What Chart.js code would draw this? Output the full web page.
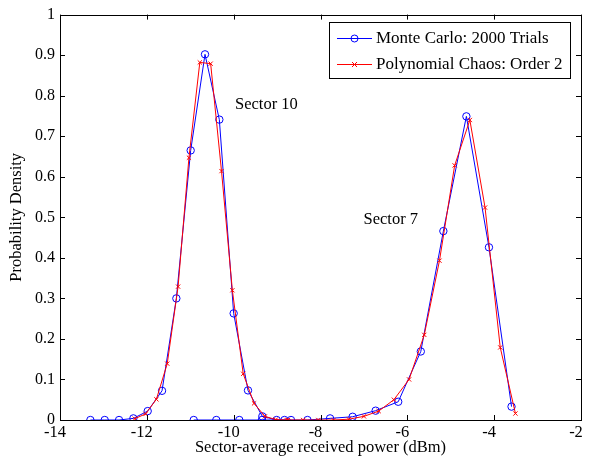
<!DOCTYPE html>
<html>
<head>
<meta charset="utf-8">
<script src="https://cdn.jsdelivr.net/npm/chart.js@4"></script>
<style>
    html, body { margin: 0; padding: 0; background: #fff; }
    #wrap { width: 591px; height: 461px; }
</style>
</head>
<body>
<div id="wrap"><canvas id="pdfChart" width="591" height="461"></canvas></div>
<script>
// =========================
// Data
// =========================

// Monte Carlo histogram, sector 10
const mcSector10X = [-13.30, -12.97, -12.64, -12.31, -11.98, -11.65, -11.32, -10.99, -10.66, -10.33, -10.00, -9.67, -9.34, -9.01, -8.68];
const mcSector10Y = [0, 0, 0, 0.004, 0.022, 0.072, 0.300, 0.665, 0.902, 0.741, 0.263, 0.073, 0.009, 0, 0];

// Monte Carlo histogram, sector 7
const mcSector7X = [-10.92, -10.40, -9.87, -9.35, -8.83, -8.30, -7.78, -7.26, -6.73, -6.21, -5.69, -5.17, -4.64, -4.12, -3.60];
const mcSector7Y = [0, 0, 0, 0, 0, 0, 0.004, 0.008, 0.023, 0.045, 0.169, 0.466, 0.749, 0.426, 0.033];

// Polynomial chaos, sector 10
const pcSector10X = [-12.28, -12.03, -11.78, -11.53, -11.28, -11.03, -10.78, -10.53, -10.28, -10.03, -9.78, -9.53, -9.28, -9.03, -8.78];
const pcSector10Y = [0.003, 0.015, 0.051, 0.139, 0.329, 0.647, 0.882, 0.879, 0.614, 0.320, 0.114, 0.041, 0.009, 0.001, 0];

// Polynomial chaos, sector 7
const pcSector7X = [-8.75, -8.40, -8.05, -7.70, -7.35, -7.00, -6.66, -6.31, -5.96, -5.61, -5.26, -4.91, -4.56, -4.21, -3.86, -3.51];
const pcSector7Y = [0, 0, 0, 0, 0.002, 0.009, 0.022, 0.050, 0.100, 0.210, 0.393, 0.628, 0.740, 0.524, 0.179, 0.016];

// Axes
const xTicks = [-14, -12, -10, -8, -6, -4, -2];
const yTicks = [0, 0.1, 0.2, 0.3, 0.4, 0.5, 0.6, 0.7, 0.8, 0.9, 1];

// Legend + labels
const seriesNames = ['Monte Carlo: 2000 Trials', 'Polynomial Chaos: Order 2'];
const sectorLabels = ['Sector 10', 'Sector 7'];
const sectorLabelX = [-9.97, -7.01];
const sectorLabelY = [0.778, 0.493];

const FONT = "'Liberation Serif', 'Times New Roman', serif";
const BLUE = '#0000ff';
const RED = '#ff0000';

function toPoints(xs, ys) {
    return xs.map((x, i) => ({ x: x, y: ys[i] }));
}

function seriesStyle(color, marker, radius) {
    return {
        borderColor: color,
        backgroundColor: color,
        borderWidth: 1,
        pointStyle: marker,
        pointRadius: radius,
        pointBorderColor: color,
        pointBackgroundColor: 'rgba(0,0,0,0)',
        pointBorderWidth: 1,
        showLine: true,
        tension: 0
    };
}

// Box, inward ticks, legend and text labels (MATLAB look)
const matlabFrame = {
    id: 'matlabFrame',
    afterDatasetsDraw(chart) {
        const ctx = chart.ctx;
        const a = chart.chartArea;
        const xs = chart.scales.x;
        const ys = chart.scales.y;
        const tl = 5;

        ctx.save();
        ctx.strokeStyle = '#000';
        ctx.lineWidth = 1;
        ctx.beginPath();
        xTicks.forEach(v => {
            const px = Math.round(xs.getPixelForValue(v)) + 0.5;
            ctx.moveTo(px, a.bottom); ctx.lineTo(px, a.bottom - tl);
            ctx.moveTo(px, a.top); ctx.lineTo(px, a.top + tl);
        });
        yTicks.forEach(v => {
            const py = Math.round(ys.getPixelForValue(v)) + 0.5;
            ctx.moveTo(a.left, py); ctx.lineTo(a.left + tl, py);
            ctx.moveTo(a.right, py); ctx.lineTo(a.right - tl, py);
        });
        ctx.stroke();
        ctx.strokeRect(Math.round(a.left) + 0.5, Math.round(a.top) + 0.5,
            Math.round(a.right - a.left), Math.round(a.bottom - a.top));

        // sector labels
        ctx.fillStyle = '#000';
        ctx.font = '16.5px ' + FONT;
        ctx.textAlign = 'left';
        ctx.textBaseline = 'middle';
        sectorLabels.forEach((t, i) => {
            ctx.fillText(t, xs.getPixelForValue(sectorLabelX[i]), ys.getPixelForValue(sectorLabelY[i]));
        });

        // legend box
        const bx = 329, by = 22, bw = 241, bh = 56;
        ctx.fillStyle = '#fff';
        ctx.fillRect(bx, by, bw, bh);
        ctx.strokeRect(bx + 0.5, by + 0.5, bw, bh);
        ctx.font = '17px ' + FONT;
        const rows = [
            { color: BLUE, marker: 'circle', y: by + 16 },
            { color: RED, marker: 'cross', y: by + 42 }
        ];
        rows.forEach((r, i) => {
            ctx.strokeStyle = r.color;
            ctx.beginPath();
            ctx.moveTo(bx + 8, r.y + 0.5);
            ctx.lineTo(bx + 43, r.y + 0.5);
            ctx.stroke();
            ctx.beginPath();
            if (r.marker === 'circle') {
                ctx.arc(bx + 25.5, r.y + 0.5, 3.5, 0, Math.PI * 2);
            } else {
                ctx.moveTo(bx + 23, r.y - 2); ctx.lineTo(bx + 28, r.y + 3);
                ctx.moveTo(bx + 28, r.y - 2); ctx.lineTo(bx + 23, r.y + 3);
            }
            ctx.stroke();
            ctx.fillStyle = '#000';
            ctx.fillText(seriesNames[i], bx + 47, r.y + 1);
        });
        ctx.restore();
    }
};

const ctx = document.getElementById('pdfChart').getContext('2d');

new Chart(ctx, {
    type: 'scatter',
    data: {
        datasets: [
            Object.assign({ label: seriesNames[1], data: toPoints(pcSector10X, pcSector10Y), order: 0 }, seriesStyle(RED, 'crossRot', 3)),
            Object.assign({ label: seriesNames[1], data: toPoints(pcSector7X, pcSector7Y), order: 0 }, seriesStyle(RED, 'crossRot', 3)),
            Object.assign({ label: seriesNames[0], data: toPoints(mcSector10X, mcSector10Y), order: 1 }, seriesStyle(BLUE, 'circle', 3.7)),
            Object.assign({ label: seriesNames[0], data: toPoints(mcSector7X, mcSector7Y), order: 1 }, seriesStyle(BLUE, 'circle', 3.7))
        ]
    },
    options: {
        responsive: false,
        animation: false,
        layout: { padding: { left: 0, top: 10, right: 10, bottom: 0 } },
        plugins: {
            legend: { display: false },
            tooltip: { enabled: false }
        },
        scales: {
            x: {
                type: 'linear',
                min: -14,
                max: -2,
                afterFit: s => { s.height = 41; },
                afterBuildTicks: s => { s.ticks = xTicks.map(v => ({ value: v })); },
                grid: { display: false, drawTicks: false },
                border: { display: false },
                ticks: {
                    color: '#000',
                    padding: 3,
                    maxRotation: 0,
                    labelOffset: -5,
                    font: { family: FONT, size: 16.5 },
                    callback: v => String(v)
                },
                title: {
                    display: true,
                    text: 'Sector-average received power (dBm)',
                    color: '#000',
                    font: { family: FONT, size: 16.5 },
                    padding: { top: 0, bottom: 3 }
                }
            },
            y: {
                type: 'linear',
                min: 0,
                max: 1,
                afterFit: s => { s.width = 60; },
                afterBuildTicks: s => { s.ticks = yTicks.map(v => ({ value: v })); },
                grid: { display: false, drawTicks: false },
                border: { display: false },
                ticks: {
                    color: '#000',
                    padding: 5,
                    font: { family: FONT, size: 16 },
                    callback: v => String(Math.round(v * 10) / 10)
                },
                title: {
                    display: true,
                    text: 'Probability Density',
                    color: '#000',
                    font: { family: FONT, size: 16.5 },
                    padding: { top: 7, bottom: 0 }
                }
            }
        }
    },
    plugins: [matlabFrame]
});
</script>
</body>
</html>
